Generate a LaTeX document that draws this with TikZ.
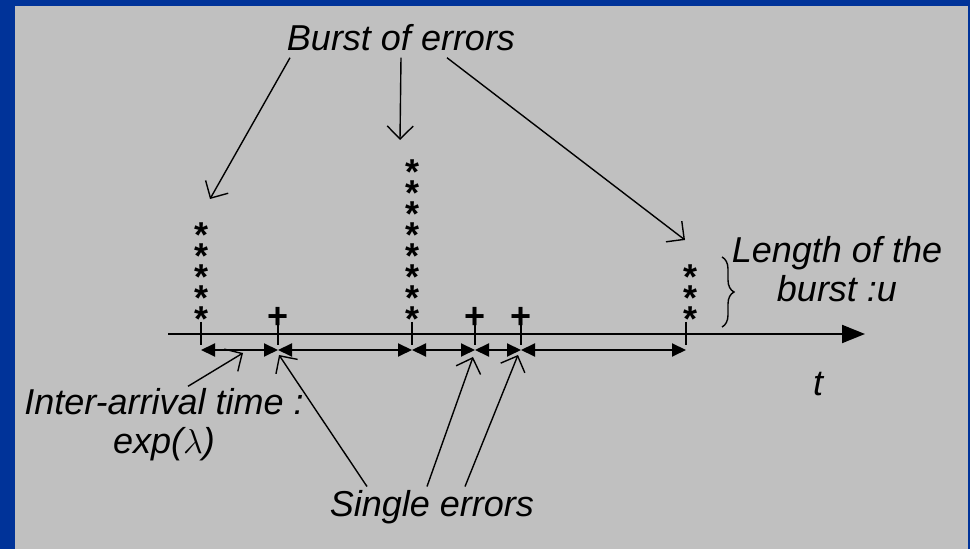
\documentclass[tikz,border=0pt]{standalone}
\usepackage{fontspec}
\setmainfont{Liberation Sans}
\usetikzlibrary{arrows.meta,decorations.pathreplacing}
\definecolor{slideblue}{HTML}{003399}
\definecolor{slidegray}{HTML}{C0C0C0}
\tikzset{
  lbl/.style={font=\fontsize{18}{19.5}\selectfont\itshape, inner sep=0pt},
  errsym/.style={font=\fontsize{18}{20}\selectfont\bfseries, inner sep=0pt, anchor=base},
  ptr/.style={line width=0.7pt, -{Straight Barb[length=6.5pt,width=13pt]}},
  gap/.style={line width=1pt, {Triangle[length=7pt,width=6.5pt]}-{Triangle[length=7pt,width=6.5pt]}},
}

\begin{document}
\begin{tikzpicture}[x=0.5pt, y=-0.5pt]
  \fill[slideblue] (0,0) rectangle (970,549);
  \fill[slidegray] (15,6) rectangle (968,549);
  \useasboundingbox (0,0) rectangle (970,549);

  % time axis
  \coordinate (o) at (168,334);
  \coordinate (tend) at (865,334);
  \draw[line width=1pt, -{Triangle[length=11.5pt,width=9pt]}] (o) -- (tend);
  \node[lbl, anchor=base] (t) at (818,396) {t};

  \foreach \n/\x in {b1/201, p1/278, b2/412, p2/475, p3/521, b3/686}
    \coordinate (\n) at (\x,334);
  \foreach \n in {b1,p1,b2,p2,p3,b3}
    \draw[line width=1pt] (\n) ++(0,-12) -- ++(0,23);

  % bursts and single errors
  \foreach \n/\x/\k in {b1/202/5, b2/413/8, b3/690/3}
    \foreach \j in {1,...,\k}
      \node[errsym] (\n-\j) at (\x,{353-21*\j}) {*};
  \foreach \i/\x in {1/278, 2/475, 3/521}
    \node[errsym] (plus\i) at (\x,329) {+};

  \foreach \a/\b in {b1/p1, p1/b2, b2/p2, p2/p3, p3/b3}
    \draw[gap] ([yshift=-8pt]\a) -- ([yshift=-8pt]\b);

  % labels
  \node[lbl, anchor=base] (burst) at (401,51) {Burst of errors};
  \coordinate (tip1) at (210,199);
  \coordinate (tip2) at (400,140);
  \coordinate (tip3) at (685,240);
  \foreach \dx/\tp in {-55.5/tip1, 0/tip2, 23/tip3}
    \draw[ptr] ([xshift=\dx pt, yshift=-3pt]burst.south) -- (\tp);

  \node[lbl, align=center] (length) at (837,269) {Length of the\\burst :u};
  \coordinate (brtop) at (722,257);
  \coordinate (brbot) at (722,327);
  \draw[line width=0.7pt, decorate, decoration={brace, amplitude=6pt}] (brtop) -- (brbot);

  \node[lbl, align=center] (inter) at (164,425) {Inter-arrival time :\\exp($\lambda$)};
  \coordinate (itip) at (243,353);
  \draw[ptr] ([xshift=12pt, yshift=1pt]inter.north) -- (itip);

  \node[lbl, anchor=base] (single) at (432,517) {Single errors};
  \coordinate (stip1) at (279,355);
  \coordinate (stip2) at (473,357);
  \coordinate (stip3) at (518,355);
  \foreach \dx/\tp in {-32.5/stip1, -2.5/stip2, 16.5/stip3}
    \draw[ptr] ([xshift=\dx pt, yshift=2pt]single.north) -- (\tp);
\end{tikzpicture}
\end{document}
